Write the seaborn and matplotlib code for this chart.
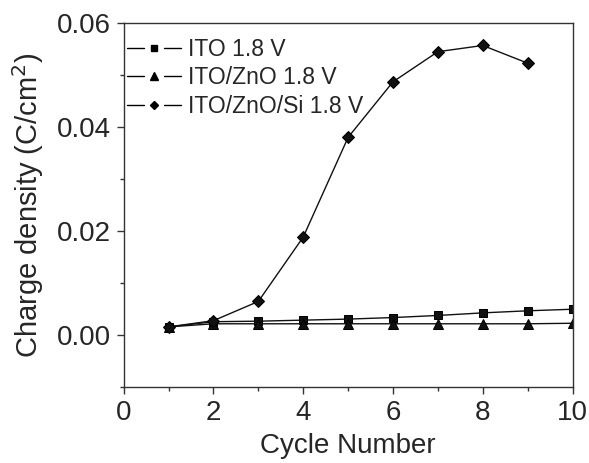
import matplotlib
matplotlib.use("Agg")
import matplotlib.pyplot as plt
import numpy as np
import pandas as pd
import seaborn as sns
from matplotlib.legend_handler import HandlerBase
from matplotlib.lines import Line2D
from matplotlib.ticker import MultipleLocator

sns.set_theme(style="ticks")
plt.rcParams["font.family"] = ["Liberation Sans", "DejaVu Sans"]

cycles = [1, 2, 3, 4, 5, 6, 7, 8, 9, 10]
ito = [0.0015, 0.0025, 0.0026, 0.0028, 0.0030, 0.0033, 0.0037, 0.0042, 0.0046, 0.0049]
ito_zno = [0.0015, 0.0021, 0.0021, 0.0021, 0.0021, 0.0021, 0.0021, 0.0021, 0.0021, 0.0022]
si_cycles = [1, 2, 3, 4, 5, 6, 7, 8, 9]
ito_zno_si = [0.0015, 0.0027, 0.0064, 0.0188, 0.0380, 0.0487, 0.0545, 0.0557, 0.0523]

labels = ["ITO 1.8 V", "ITO/ZnO 1.8 V", "ITO/ZnO/Si 1.8 V"]
markers = ["s", "^", "D"]
sizes = [6, 7, 6]
legend_sizes = [4.5, 5.5, 4.5]


class GapLineHandler(HandlerBase):
    # line - marker - line, with gaps either side of the marker
    def create_artists(self, legend, orig_handle, xdescent, ydescent,
                       width, height, fontsize, trans):
        y = height / 2 - ydescent
        x0 = -xdescent
        x1 = x0 + width
        mid = (x0 + x1) / 2
        gap = width * 0.185
        left = Line2D([x0, mid - gap], [y, y], color="black", lw=1)
        right = Line2D([mid + gap, x1], [y, y], color="black", lw=1)
        mk = Line2D([mid], [y], marker=orig_handle.get_marker(),
                    markersize=orig_handle.get_markersize(), color="black", ls="none")
        for a in (left, right, mk):
            a.set_transform(trans)
        return [left, right, mk]


df = pd.concat([
    pd.DataFrame({"cycle": cycles, "charge": ito, "sample": labels[0]}),
    pd.DataFrame({"cycle": cycles, "charge": ito_zno, "sample": labels[1]}),
    pd.DataFrame({"cycle": si_cycles, "charge": ito_zno_si, "sample": labels[2]}),
])

fig, ax = plt.subplots(figsize=(5.89, 4.63), dpi=100)
for lab, mk, ms in zip(labels, markers, sizes):
    sub = df[df["sample"] == lab]
    sns.lineplot(data=sub, x="cycle", y="charge", ax=ax, color="#111111", lw=1,
                 marker=mk, markersize=ms, markeredgecolor="black", label=lab)

ax.set_xlim(0, 10)
ax.set_ylim(-0.01, 0.06)
ax.xaxis.set_major_locator(MultipleLocator(2))
ax.xaxis.set_minor_locator(MultipleLocator(1))
ax.yaxis.set_minor_locator(MultipleLocator(0.01))
ax.set_yticks([0.0, 0.02, 0.04, 0.06])
ax.set_yticklabels(["0.00", "0.02", "0.04", "0.06"])
ax.tick_params(which="major", direction="out", length=5, width=1, labelsize=20,
               color="#333333")
ax.tick_params(axis="x", which="major", pad=5)
ax.tick_params(axis="y", which="major", pad=4)
ax.tick_params(which="minor", direction="out", length=3, width=1, color="#333333")
for sp in ax.spines.values():
    sp.set_color("#333333")
    sp.set_linewidth(1)

ax.set_xlabel("Cycle Number", fontsize=20, labelpad=5)
ax.set_ylabel("Charge density (C/cm$^2$)", fontsize=21, labelpad=8)

handles = [Line2D([], [], marker=mk, markersize=ms, color="black")
           for mk, ms in zip(markers, legend_sizes)]
ax.legend(handles, labels, loc="upper left", frameon=False, fontsize=16.5,
          handlelength=2.36, handletextpad=0.3, labelspacing=0.25,
          borderaxespad=0.0, bbox_to_anchor=(-0.014, 0.985),
          handler_map={Line2D: GapLineHandler()})

fig.subplots_adjust(left=0.21, right=0.972, top=0.95, bottom=0.165)
fig.savefig("out.png", dpi=100)
